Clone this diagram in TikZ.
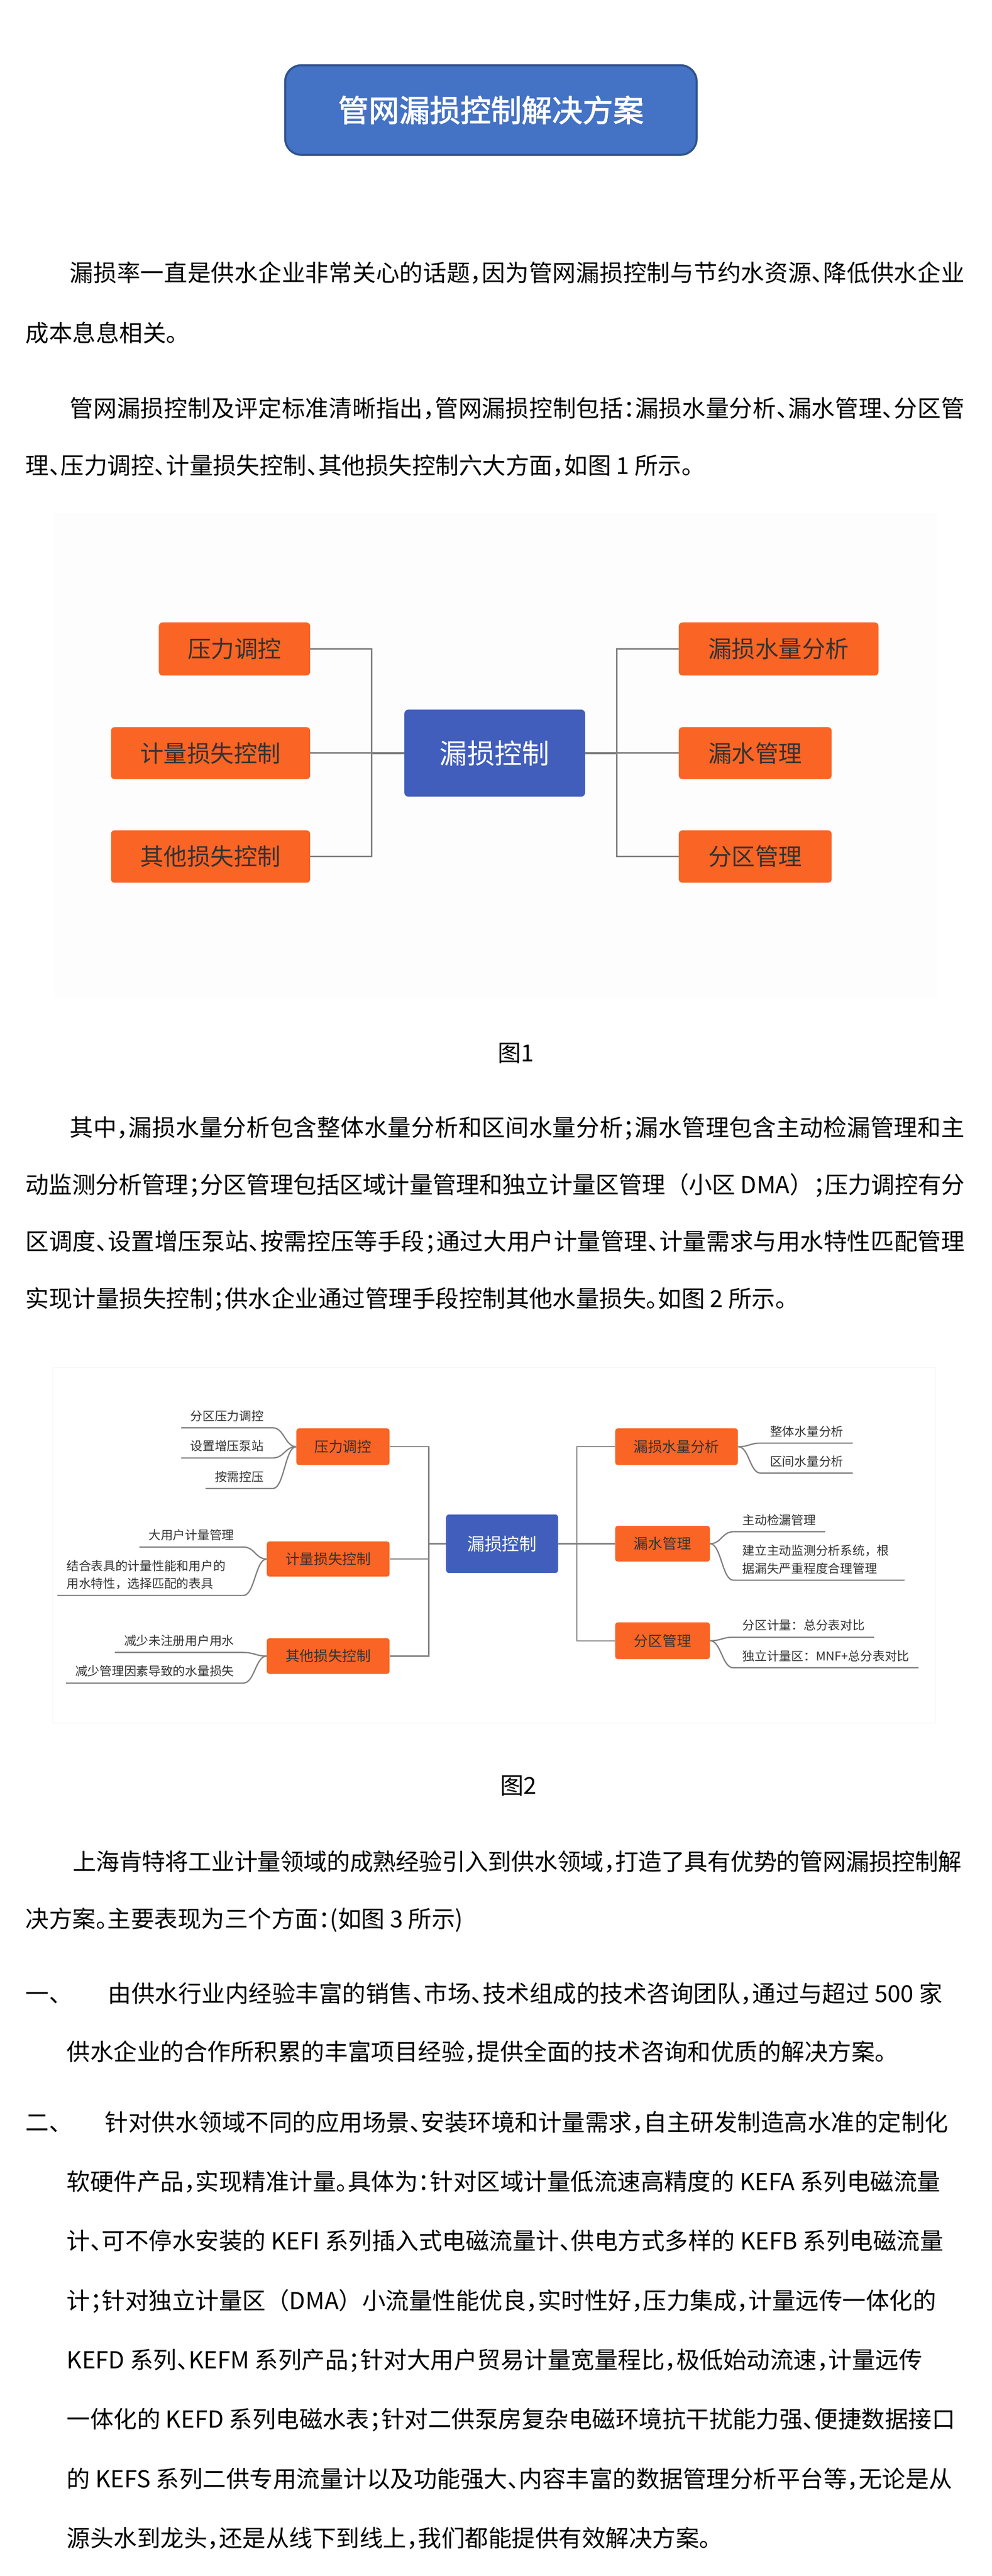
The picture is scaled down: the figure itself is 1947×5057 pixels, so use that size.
\documentclass[tikz,border=0pt]{standalone}
\usepackage{fontspec}
\setmainfont{Noto Sans CJK SC}
\newfontfamily\bodyfont{Noto Sans CJK SC}[RawFeature=+halt]
\newfontfamily\fullfont{Noto Sans CJK SC}
\newfontfamily\headfont{Noto Sans CJK SC}[FakeBold=2]
\usepackage{tikz}
\usetikzlibrary{positioning}
\XeTeXlinebreaklocale "zh"
\XeTeXlinebreakskip=0pt plus 6pt minus 1.5pt
\definecolor{titleblue}{RGB}{68,114,196}
\definecolor{titleedge}{RGB}{47,82,143}
\definecolor{hubblue}{RGB}{65,94,188}
\definecolor{leaforange}{RGB}{250,100,36}
\definecolor{linkgray}{RGB}{128,128,128}
\definecolor{labelgray}{RGB}{51,51,51}
\definecolor{figback}{RGB}{253,253,253}
\newcommand{\txtbody}{\bodyfont\fontsize{46}{56}\selectfont}
\newcommand{\txthead}{\headfont\fontsize{60}{72}\selectfont}
\newcommand{\txtleaf}{\fontsize{24}{35}\selectfont}
\tikzset{%
	titlebox/.style = {draw=titleedge, line width=4pt, fill=titleblue, rounded corners=32pt, minimum width=808pt, minimum height=176pt, text=white, font=\txthead},
	hub/.style      = {fill=hubblue, rounded corners=8pt, inner sep=0pt, text=white},
	branch/.style   = {fill=leaforange, rounded corners=7pt, inner sep=0pt, text=labelgray},
	link/.style     = {draw=linkgray, line width=3pt},
	thinlink/.style = {draw=linkgray, line width=2.5pt},
	leaf/.style     = {inner xsep=18pt, inner ysep=11pt, text height=21pt, text depth=3pt, text=labelgray, font=\txtleaf},
	twoleaf/.style  = {leaf, text width=#1, align=left, text depth=38pt},
	txtline/.style  = {anchor=base west, inner sep=0pt, font=\txtbody},
	justline/.style = {txtline, text width=#1, align=justify, execute at begin node={\parfillskip=0pt\relax}},
}

\begin{document}
\begin{tikzpicture}[x=1pt,y=-1pt]
	\fill[white] (0,0) rectangle (1947,5057);
	\useasboundingbox (0,0) rectangle (1947,5057);
	
	% title
	\node[titlebox] (title) at (964,216) {管网漏损控制解决方案};
	
	% opening paragraphs
	\node[justline=1757pt] (p1a) at (137,552.5) {漏损率一直是供水企业非常关心的话题，因为管网漏损控制与节约水资源、降低供水企业};
	\node[txtline] (p1b) at (50,671.5) {成本息息相关。};
	\node[justline=1757pt] (p2a) at (137,818.5) {管网漏损控制及评定标准清晰指出，管网漏损控制包括：漏损水量分析、漏水管理、分区管};
	\node[txtline] (p2b) at (50,930.5) {理、压力调控、计量损失控制、其他损失控制六大方面，如图 1 所示。};
	
	% figure 1
	\fill[figback] (106,1007) rectangle (1841,1959);
	\node[hub, minimum width=355pt, minimum height=171pt, font=\fontsize{54}{60}\selectfont] (hub) at (971.5,1478.5) {漏损控制};
	\node[branch, minimum width=297pt, minimum height=104pt, font=\fontsize{46}{52}\selectfont] (a1) at (460.5,1274) {压力调控};
	\node[branch, minimum width=391pt, minimum height=102pt, font=\fontsize{46}{52}\selectfont] (a2) at (413.5,1478.5) {计量损失控制};
	\node[branch, minimum width=391pt, minimum height=103pt, font=\fontsize{46}{52}\selectfont] (a3) at (413.5,1681.5) {其他损失控制};
	\node[branch, minimum width=392pt, minimum height=104pt, font=\fontsize{46}{52}\selectfont] (c1) at (1529,1274) {漏损水量分析};
	\node[branch, minimum width=300pt, minimum height=102pt, font=\fontsize{46}{52}\selectfont] (c2) at (1483,1478.5) {漏水管理};
	\node[branch, minimum width=300pt, minimum height=103pt, font=\fontsize{46}{52}\selectfont] (c3) at (1483,1681.5) {分区管理};
	
	\coordinate (lbus) at (730,1478.5);
	\coordinate (rbus) at (1211,1478.5);
	\draw[link] (a1.east) -| (lbus) |- (a3.east);
	\draw[link] (a2.east) -- (lbus);
	\draw[link, line width=4pt] (lbus) -- (hub.west);
	\draw[link] (c1.west) -| (rbus) |- (c3.west);
	\draw[link] (c2.west) -- (rbus);
	\draw[link, line width=4pt] (rbus) -- (hub.east);
	
	\node[txtline] (fig1) at (977,2083.5) {图1};
	
	% paragraph on figure 2
	\node[justline=1757pt] (p3a) at (137,2230.5) {其中，漏损水量分析包含整体水量分析和区间水量分析；漏水管理包含主动检漏管理和主};
	\node[justline=1844pt] (p3b) at (50,2342.5) {动监测分析管理；分区管理包括区域计量管理和独立计量区管理{\fullfont（}小区 DMA{\fullfont）}；压力调控有分};
	\node[justline=1844pt] (p3c) at (50,2454.5) {区调度、设置增压泵站、按需控压等手段；通过大用户计量管理、计量需求与用水特性匹配管理};
	\node[txtline] (p3d) at (50,2566.5) {实现计量损失控制；供水企业通过管理手段控制其他水量损失。如图 2 所示。};
	
	% figure 2
	\draw[draw=gray!8, line width=1pt] (103,2685) rectangle (1837,3383);
	\node[hub, minimum width=220pt, minimum height=115pt, rounded corners=6pt, font=\fontsize{34}{40}\selectfont] (hub2) at (986,3030.5) {漏损控制};
	\node[branch, minimum width=183pt, minimum height=72pt, rounded corners=5pt, font=\fontsize{28}{34}\selectfont] (b1) at (673.5,2840) {压力调控};
	\node[branch, minimum width=241pt, minimum height=69pt, rounded corners=5pt, font=\fontsize{28}{34}\selectfont] (b2) at (644.5,3060.5) {计量损失控制};
	\node[branch, minimum width=241pt, minimum height=70pt, rounded corners=5pt, font=\fontsize{28}{34}\selectfont] (b3) at (644.5,3251) {其他损失控制};
	\node[branch, minimum width=241pt, minimum height=72pt, rounded corners=5pt, font=\fontsize{28}{34}\selectfont] (r1) at (1328.5,2840) {漏损水量分析};
	\node[branch, minimum width=186pt, minimum height=70pt, rounded corners=5pt, font=\fontsize{28}{34}\selectfont] (r2) at (1301,3030.5) {漏水管理};
	\node[branch, minimum width=186pt, minimum height=72pt, rounded corners=5pt, font=\fontsize{28}{34}\selectfont] (r3) at (1301,3221) {分区管理};
	
	\coordinate (lbus2) at (842,3030.5);
	\coordinate (rbus2) at (1133,3030.5);
	\draw[thinlink] (b1.east) -| (lbus2) |- (b3.east);
	\draw[thinlink] (b2.east) -- (b2.east -| lbus2);
	\draw[thinlink] (lbus2) -- (hub2.west);
	\draw[thinlink] (r1.west) -| (rbus2) |- (r3.west);
	\draw[thinlink] (hub2.east) -- (r2.west);
	
	% leaves, left
	\node[leaf, anchor=south east] (l1) at (536,2803) {分区压力调控};
	\node[leaf, anchor=south east] (l2) at (536,2862) {设置增压泵站};
	\node[leaf, anchor=south east] (l3) at (536,2922) {按需控压};
	\node[leaf, anchor=south east] (l4) at (478,3037) {大用户计量管理};
	\node[twoleaf=329pt, anchor=south east] (l5) at (478,3132) {结合表具的计量性能和用户的\\用水特性，选择匹配的表具};
	\node[leaf, anchor=south east] (l6) at (478,3244) {减少未注册用户用水};
	\node[leaf, anchor=south east] (l7) at (478,3304) {减少管理因素导致的水量损失};
	\foreach \lf in {l1,l2,l3} \draw[thinlink] (b1.west) .. controls +(-22,0) and +(22,0) .. (\lf.south east) -- (\lf.south west);
	\foreach \lf in {l4,l5} \draw[thinlink] (b2.west) .. controls +(-22,0) and +(22,0) .. (\lf.south east) -- (\lf.south west);
	\foreach \lf in {l6,l7} \draw[thinlink] (b3.west) .. controls +(-22,0) and +(22,0) .. (\lf.south east) -- (\lf.south west);
	
	% leaves, right
	\node[leaf, anchor=south west] (m1) at (1494,2833) {整体水量分析};
	\node[leaf, anchor=south west] (m2) at (1494,2892) {区间水量分析};
	\node[leaf, anchor=south west] (m3) at (1440,3007) {主动检漏管理};
	\node[twoleaf=300pt, anchor=south west] (m4) at (1440,3102) {建立主动监测分析系统，根\\据漏失严重程度合理管理};
	\node[leaf, anchor=south west] (m5) at (1440,3214) {分区计量：总分表对比};
	\node[leaf, anchor=south west] (m6) at (1440,3274) {独立计量区：MNF+总分表对比};
	\foreach \lf in {m1,m2} \draw[thinlink] (r1.east) .. controls +(22,0) and +(-22,0) .. (\lf.south west) -- (\lf.south east);
	\foreach \lf in {m3,m4} \draw[thinlink] (r2.east) .. controls +(22,0) and +(-22,0) .. (\lf.south west) -- (\lf.south east);
	\foreach \lf in {m5,m6} \draw[thinlink] (r3.east) .. controls +(22,0) and +(-22,0) .. (\lf.south west) -- (\lf.south east);
	
	\node[txtline] (fig2) at (982,3522.5) {图2};
	
	% closing paragraphs
	\node[justline=1745pt] (p4a) at (143,3671.5) {上海肯特将工业计量领域的成熟经验引入到供水领域，打造了具有优势的管网漏损控制解};
	\node[txtline] (p4b) at (50,3784.5) {决方案。主要表现为三个方面：(如图 3 所示)};
	
	\node[txtline] (n1) at (50,3930.5) {一、};
	\node[txtline] (d1) at (212,3930.5) {由供水行业内经验丰富的销售、市场、技术组成的技术咨询团队，通过与超过 500 家};
	\node[txtline] (d2) at (131,4045.5) {供水企业的合作所积累的丰富项目经验，提供全面的技术咨询和优质的解决方案。};
	
	\node[txtline] (n2) at (50,4183.5) {二、};
	\node[txtline] (e0) at (206,4183.5) {针对供水领域不同的应用场景、安装环境和计量需求，自主研发制造高水准的定制化};
	\foreach \txt [count=\i] in {%
		软硬件产品，实现精准计量。具体为：针对区域计量低流速高精度的 KEFA 系列电磁流量,
		计、可不停水安装的 KEFI 系列插入式电磁流量计、供电方式多样的 KEFB 系列电磁流量,
		计；针对独立计量区{\fullfont（}DMA{\fullfont）}小流量性能优良，实时性好，压力集成，计量远传一体化的,
		KEFD 系列、KEFM 系列产品；针对大用户贸易计量宽量程比，极低始动流速，计量远传,
		一体化的 KEFD 系列电磁水表；针对二供泵房复杂电磁环境抗干扰能力强、便捷数据接口,
		的 KEFS 系列二供专用流量计以及功能强大、内容丰富的数据管理分析平台等，无论是从,
		源头水到龙头，还是从线下到线上，我们都能提供有效解决方案。}
		\node[txtline] (e\i) at (131,{4183.5+116.6*\i}) {\txt};
\end{tikzpicture}
\end{document}
